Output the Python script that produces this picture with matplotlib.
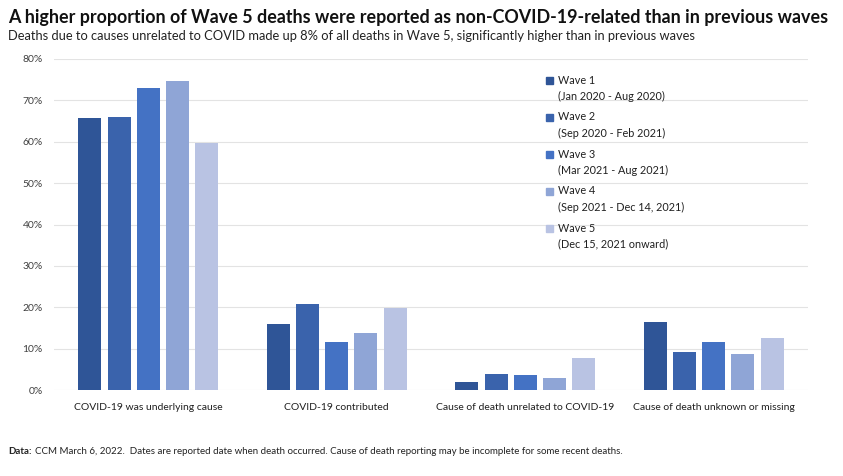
import matplotlib
matplotlib.use("Agg")
import matplotlib.pyplot as plt
from matplotlib.patches import Rectangle
import numpy as np

plt.rcParams['font.family'] = ['Lato', 'DejaVu Sans']

categories = ["COVID-19 was underlying cause", "COVID-19 contributed",
              "Cause of death unrelated to COVID-19", "Cause of death unknown or missing"]
waves = ["Wave 1", "Wave 2", "Wave 3", "Wave 4", "Wave 5"]
periods = ["(Jan 2020 - Aug 2020)", "(Sep 2020 - Feb 2021)", "(Mar 2021 - Aug 2021)",
           "(Sep 2021 - Dec 14, 2021)", "(Dec 15, 2021 onward)"]
wave1 = [65.7, 16.0, 1.9, 16.4]
wave2 = [66.1, 20.8, 3.9, 9.1]
wave3 = [72.9, 11.6, 3.7, 11.5]
wave4 = [74.6, 13.8, 2.8, 8.6]
wave5 = [59.7, 19.8, 7.8, 12.6]
series = [wave1, wave2, wave3, wave4, wave5]
colors = ["#2F5597", "#3A63AC", "#4472C4", "#8FA5D6", "#B9C3E3"]

fig = plt.figure(figsize=(8.43, 4.76), dpi=100)
ax = fig.add_axes([54/843, 86/476, 754/843, 331/476])

x = np.arange(len(categories))
step = 0.155
width = 0.122
for i, vals in enumerate(series):
    ax.bar(x + (i - 2) * step, vals, width, color=colors[i], zorder=3)

ax.set_xlim(-0.5, len(categories) - 0.5)
ax.set_ylim(0, 80)
ax.set_yticks(np.arange(0, 81, 10))
ax.set_yticklabels([f"{v}%" for v in range(0, 81, 10)], fontsize=7.5, color="#404040")
ax.set_xticks(x)
ax.set_xticklabels(categories, fontsize=7.5, color="#202020")
ax.tick_params(length=0, pad=9)
ax.tick_params(axis="y", pad=8)
ax.grid(axis="y", color="#E3E3E3", linewidth=0.8, zorder=0)
for s in ax.spines.values():
    s.set_visible(False)

# legend, handle aligned with first line
for i in range(5):
    ytop = 1 - (80 + 37 * i) / 476
    fig.patches.append(Rectangle((546/843, ytop - 4/476), 7/843, 7/476,
                                 transform=fig.transFigure, color=colors[i]))
    fig.text(558/843, ytop, waves[i], fontsize=7.8, va="center", color="#202020")
    fig.text(558/843, ytop - 16/476, periods[i], fontsize=7.8, va="center", color="#202020")

fig.text(8/843, 1 - 17/476, "A higher proportion of Wave 5 deaths were reported as non-COVID-19-related than in previous waves",
         fontsize=12.9, fontweight="bold", va="center", color="#111111")
fig.text(8/843, 1 - 36/476, "Deaths due to causes unrelated to COVID made up 8% of all deaths in Wave 5, significantly higher than in previous waves",
         fontsize=9.3, va="center", color="#222222")
fig.text(8/843, 1 - 451/476, "Data:", fontsize=7, va="center", color="#222222", fontweight="bold")
fig.text(35/843, 1 - 451/476, "CCM March 6, 2022.  Dates are reported date when death occurred. Cause of death reporting may be incomplete for some recent deaths.",
         fontsize=7, va="center", color="#222222")

fig.savefig("out.png", dpi=100)
